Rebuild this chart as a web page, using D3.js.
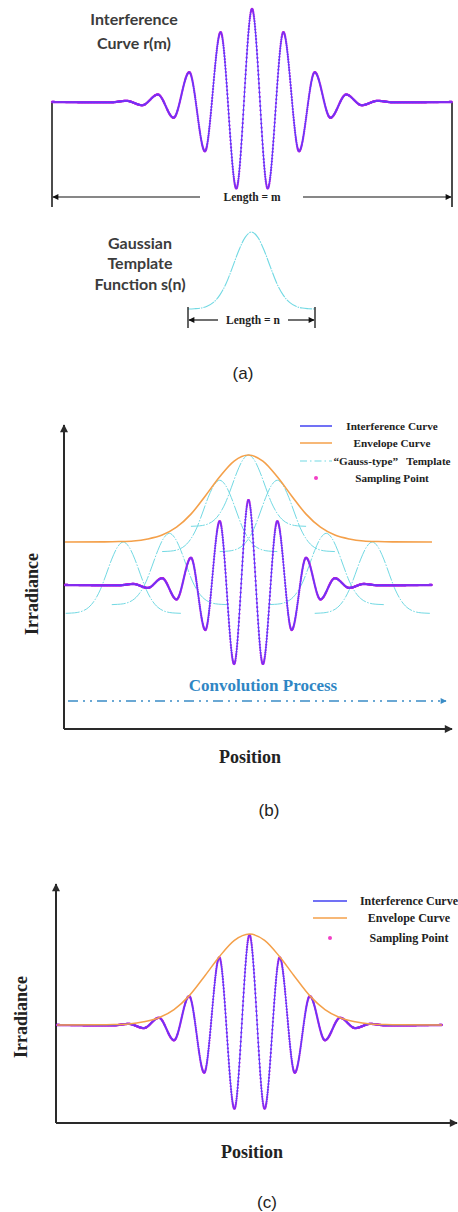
<!DOCTYPE html>
<html lang="en">
  <head>
    <meta charset="utf-8" />
    <title>Interference curve, Gauss-type template and convolution</title>
    <style>
      body {
        margin: 0;
        background: #fff;
      }
      svg {
        display: block;
      }
      .serif {
        font-family: 'Liberation Serif', 'Times New Roman', serif;
        font-weight: bold;
        fill: #222;
      }
      .sans {
        font-family: Lato, 'Open Sans', sans-serif;
        font-weight: bold;
        font-size: 16px;
        fill: #3c3c3c;
      }
      .tag {
        font-family: 'Liberation Sans', Arial, sans-serif;
        font-size: 17px;
        fill: #222;
      }
    </style>
    <script src="https://d3js.org/d3.v7.min.js"></script>
  </head>

  <body>
    <svg width="458" height="1212"></svg>

    <script>
      // fringe extrema, position in half-periods from the centre
      const fringeK = [-12.75, -9, -8, -7, -6, -5, -4, -3, -2, -1, 0, 1, 2, 3, 4, 5, 6, 7, 8, 9, 12.75];
      const fringeAmp = [0, -0.004, 0.012, -0.035, 0.08, -0.17, 0.32, -0.53, 0.75, -0.93, 1,
        -0.93, 0.75, -0.53, 0.32, -0.17, 0.08, -0.035, 0.012, -0.004, 0];

      // envelope of the fringes
      const envK = [-12.75, -10, -9, -8, -7, -6, -5, -4, -3, -2, -1, 0, 1, 2, 3, 4, 5, 6, 7, 8, 9, 10, 12.75];
      const envVal = [0, 0.002, 0.005, 0.012, 0.035, 0.08, 0.17, 0.32, 0.53, 0.75, 0.93, 1,
        0.93, 0.75, 0.53, 0.32, 0.17, 0.08, 0.035, 0.012, 0.005, 0.002, 0];

      // gaussian template shape (u = -1..1 over its length n)
      const tplU = [-1, -0.9, -0.8, -0.7, -0.6, -0.5, -0.4, -0.3, -0.2, -0.1, 0,
        0.1, 0.2, 0.3, 0.4, 0.5, 0.6, 0.7, 0.8, 0.9, 1];
      const tplVal = [0, 0.004, 0.012, 0.035, 0.085, 0.18, 0.33, 0.54, 0.76, 0.93, 1,
        0.93, 0.76, 0.54, 0.33, 0.18, 0.085, 0.035, 0.012, 0.004, 0];

      // templates sliding along the envelope in (b)
      const tplCenters = [-8.7, -5.5, -2, 0, 2, 5.4, 8.6];
      const tplPeaks = [0, 0.1, 0.71, 1, 0.71, 0.1, 0];
      const tplHalfSpan = 4; // half-periods
      const tplDepth = 0.82; // envelope units

      const legendB = ['Interference Curve', 'Envelope Curve', '\u201CGauss-type\u201D\u00A0\u00A0 Template', 'Sampling Point'];
      const legendC = ['Interference Curve', 'Envelope Curve', 'Sampling Point'];

      const C = {
        fringe: '#5a3cff',
        dot: '#b020e0',
        pink: '#f23fc6',
        env: '#f4a04a',
        cyan: '#72d9e3',
        axis: '#2a2a2a',
        conv: '#3a8cc6',
      };

      const svg = d3.select('svg');
      const defs = svg.append('defs');

      function marker(id, color, w, h) {
        defs
          .append('marker')
          .attr('id', id)
          .attr('viewBox', '0 0 10 10')
          .attr('refX', 9)
          .attr('refY', 5)
          .attr('markerUnits', 'userSpaceOnUse')
          .attr('markerWidth', w)
          .attr('markerHeight', h)
          .attr('orient', 'auto-start-reverse')
          .append('path')
          .attr('d', 'M0,0 L10,5 L0,10 Z')
          .attr('fill', color);
      }
      marker('axArrow', C.axis, 11, 8);
      marker('dimArrow', '#111', 9, 6);
      marker('convArrow', C.conv, 8, 6);

      const fringeData = fringeK.map((k, i) => [k, fringeAmp[i]]);
      const envData = envK.map((k, i) => [k, envVal[i]]);

      function lineGen(x, y) {
        return d3
          .line()
          .x((d) => x(d[0]))
          .y((d) => y(d[1]))
          .curve(d3.curveMonotoneX);
      }

      // sampling points: evenly spaced in x along the drawn fringe
      function drawFringe(g, x, y) {
        const path = g
          .append('path')
          .attr('d', lineGen(x, y)(fringeData))
          .attr('fill', 'none')
          .attr('stroke', C.fringe)
          .attr('stroke-width', 1.1);
        const node = path.node();
        const total = node.getTotalLength();
        const pts = [];
        let nextX = -Infinity;
        for (let l = 0; l <= total; l += 0.3) {
          const p = node.getPointAtLength(l);
          if (p.x >= nextX) {
            pts.push(p);
            nextX = p.x + 0.25;
          }
        }
        g.insert('g', 'path')
          .selectAll('circle')
          .data(pts)
          .join('circle')
          .attr('cx', (d) => d.x)
          .attr('cy', (d) => d.y)
          .attr('r', 1.15)
          .attr('fill', C.dot);
      }

      function axes(g, x0, y0, yTop, xRight) {
        g.append('path')
          .attr('d', `M${x0},${y0} V${yTop}`)
          .attr('stroke', C.axis)
          .attr('stroke-width', 2)
          .attr('marker-end', 'url(#axArrow)');
        g.append('path')
          .attr('d', `M${x0},${y0} H${xRight}`)
          .attr('stroke', C.axis)
          .attr('stroke-width', 2)
          .attr('marker-end', 'url(#axArrow)');
      }

      function legend(g, labels, kinds, x1, x2, xText, ys, fs) {
        labels.forEach((lab, i) => {
          const y = ys[i];
          const k = kinds[i];
          if (k === 'dot') {
            g.append('circle')
              .attr('cx', (x1 + x2) / 2)
              .attr('cy', y)
              .attr('r', 2)
              .attr('fill', C.pink);
          } else {
            g.append('line')
              .attr('x1', x1)
              .attr('x2', x2)
              .attr('y1', y)
              .attr('y2', y)
              .attr('stroke', k === 'fringe' ? '#4242f2' : k === 'env' ? C.env : C.cyan)
              .attr('stroke-width', k === 'tpl' ? 1.2 : 1.5)
              .attr('stroke-dasharray', k === 'tpl' ? '7,3,1.5,3' : null);
          }
          g.append('text')
            .attr('class', 'serif')
            .attr('x', xText)
            .attr('y', y)
            .attr('dy', '0.35em')
            .attr('text-anchor', 'middle')
            .style('font-size', fs + 'px')
            .text(lab);
        });
      }

      // ---------- (a) ----------
      const ga = svg.append('g');
      const xa = d3.scaleLinear().domain([-12.75, 12.75]).range([52, 452]);
      const ya = d3.scaleLinear().domain([-1, 1]).range([195, 9]);

      ga.append('text').attr('class', 'sans').attr('x', 134).attr('y', 25).attr('text-anchor', 'middle').text('Interference');
      ga.append('text').attr('class', 'sans').attr('x', 134).attr('y', 49).attr('text-anchor', 'middle').text('Curve r(m)');

      [52, 452].forEach((xx) =>
        ga.append('line').attr('x1', xx).attr('x2', xx).attr('y1', 102).attr('y2', 207)
          .attr('stroke', '#111').attr('stroke-width', 1.5),
      );
      ga.append('line').attr('x1', 200).attr('x2', 53).attr('y1', 197).attr('y2', 197)
        .attr('stroke', '#111').attr('stroke-width', 1.2).attr('marker-end', 'url(#dimArrow)');
      ga.append('line').attr('x1', 303).attr('x2', 451).attr('y1', 197).attr('y2', 197)
        .attr('stroke', '#111').attr('stroke-width', 1.2).attr('marker-end', 'url(#dimArrow)');
      ga.append('text').attr('class', 'serif').style('font-size', '11.5px')
        .attr('x', 252).attr('y', 197).attr('dy', '0.35em').attr('text-anchor', 'middle').text('Length = m');

      drawFringe(ga.append('g'), xa, ya);

      // gaussian template s(n)
      const xt = d3.scaleLinear().domain([-1, 1]).range([188, 315]);
      const yt = d3.scaleLinear().domain([0, 1]).range([309, 232]);
      ga.append('path')
        .attr('d', lineGen(xt, yt)(tplU.map((u, i) => [u, tplVal[i]])))
        .attr('fill', 'none')
        .attr('stroke', C.cyan)
        .attr('stroke-width', 1.1)
        .attr('stroke-dasharray', '12,1,1.5,1');

      ga.append('text').attr('class', 'sans').attr('x', 140).attr('y', 249).attr('text-anchor', 'middle').text('Gaussian');
      ga.append('text').attr('class', 'sans').attr('x', 140).attr('y', 269).attr('text-anchor', 'middle').text('Template');
      ga.append('text').attr('class', 'sans').attr('x', 140).attr('y', 290).attr('text-anchor', 'middle').text('Function s(n)');

      [188, 315].forEach((xx) =>
        ga.append('line').attr('x1', xx).attr('x2', xx).attr('y1', 307).attr('y2', 328)
          .attr('stroke', '#111').attr('stroke-width', 1.3),
      );
      ga.append('line').attr('x1', 218).attr('x2', 189).attr('y1', 320).attr('y2', 320)
        .attr('stroke', '#111').attr('stroke-width', 1.2).attr('marker-end', 'url(#dimArrow)');
      ga.append('line').attr('x1', 288).attr('x2', 314).attr('y1', 320).attr('y2', 320)
        .attr('stroke', '#111').attr('stroke-width', 1.2).attr('marker-end', 'url(#dimArrow)');
      ga.append('text').attr('class', 'serif').style('font-size', '11.5px')
        .attr('x', 253).attr('y', 320).attr('dy', '0.35em').attr('text-anchor', 'middle').text('Length = n');

      ga.append('text').attr('class', 'tag').attr('x', 243).attr('y', 379).attr('text-anchor', 'middle').text('(a)');

      // ---------- (b) ----------
      const gb = svg.append('g');
      const xb = d3.scaleLinear().domain([-12.75, 12.75]).range([65, 432]);
      const yb = d3.scaleLinear().domain([-1, 1]).range([670, 500]);
      const yEnvB = d3.scaleLinear().domain([0, 1]).range([542, 455]);

      axes(gb, 64, 729, 425, 452);

      tplCenters.forEach((c, j) => {
        const pts = tplU.map((u, i) => [c + u * tplHalfSpan, tplPeaks[j] - tplDepth * (1 - tplVal[i])]);
        gb.append('path')
          .attr('d', lineGen(xb, yEnvB)(pts))
          .attr('fill', 'none')
          .attr('stroke', C.cyan)
          .attr('stroke-width', 1)
          .attr('stroke-dasharray', '14,1.5,1.5,1.5');
      });

      gb.append('path')
        .attr('d', lineGen(xb, yEnvB)(envData))
        .attr('fill', 'none')
        .attr('stroke', C.env)
        .attr('stroke-width', 1.6);

      drawFringe(gb.append('g'), xb, yb);

      gb.append('text').attr('class', 'serif').style('font-size', '17px').style('fill', '#2f86c4')
        .attr('x', 263).attr('y', 685).attr('dy', '0.35em').attr('text-anchor', 'middle').text('Convolution Process');
      gb.append('line').attr('x1', 68).attr('x2', 446).attr('y1', 701).attr('y2', 701)
        .attr('stroke', C.conv).attr('stroke-width', 1.5)
        .attr('stroke-dasharray', '10,5,2,5,2,5').attr('marker-end', 'url(#convArrow)');

      legend(gb, legendB, ['fringe', 'env', 'tpl', 'dot'], 300, 332, 392, [426, 443, 461, 478], 11.2);

      gb.append('text').attr('class', 'serif').style('font-size', '18px')
        .attr('x', 250).attr('y', 757).attr('dy', '0.35em').attr('text-anchor', 'middle').text('Position');
      gb.append('text').attr('class', 'serif').style('font-size', '18px')
        .attr('transform', 'translate(32,594) rotate(-90)').attr('dy', '0.35em').attr('text-anchor', 'middle').text('Irradiance');
      gb.append('text').attr('class', 'tag').attr('x', 269).attr('y', 816).attr('text-anchor', 'middle').text('(b)');

      // ---------- (c) ----------
      const gc = svg.append('g');
      const xc = d3.scaleLinear().domain([-12.75, 12.75]).range([57, 442]);
      const yc = d3.scaleLinear().domain([-1, 1]).range([1115, 935]);
      const yEnvC = d3.scaleLinear().domain([0, 1]).range([1025, 934]);

      axes(gc, 56, 1123, 884, 457);
      drawFringe(gc.append('g'), xc, yc);
      gc.append('path')
        .attr('d', lineGen(xc, yEnvC)(envData))
        .attr('fill', 'none')
        .attr('stroke', C.env)
        .attr('stroke-width', 1.5);

      legend(gc, legendC, ['fringe', 'env', 'dot'], 313, 347, 409, [901, 918, 938], 12);

      gc.append('text').attr('class', 'serif').style('font-size', '18px')
        .attr('x', 252).attr('y', 1152).attr('dy', '0.35em').attr('text-anchor', 'middle').text('Position');
      gc.append('text').attr('class', 'serif').style('font-size', '18px')
        .attr('transform', 'translate(21,1017) rotate(-90)').attr('dy', '0.35em').attr('text-anchor', 'middle').text('Irradiance');
      gc.append('text').attr('class', 'tag').attr('x', 267).attr('y', 1208).attr('text-anchor', 'middle').text('(c)');
    </script>
  </body>
</html>
